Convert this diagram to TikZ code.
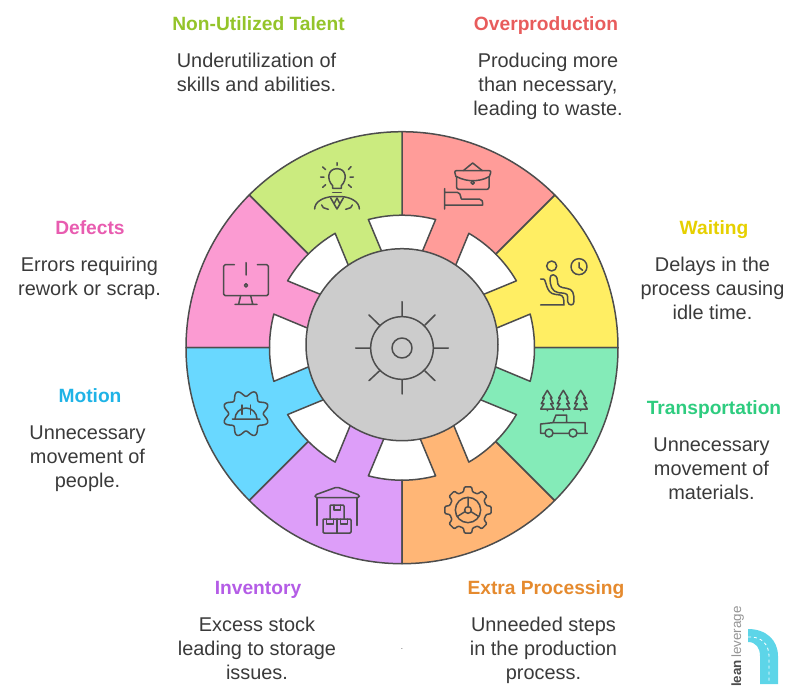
\documentclass[tikz,border=0pt]{standalone}
\usepackage{fontspec}
\setmainfont{Liberation Sans}
\definecolor{ink}{HTML}{4D4D4D}
\definecolor{cgreen}{HTML}{CBEB7F}
\definecolor{cred}{HTML}{FF9C99}
\definecolor{cyellow}{HTML}{FFEE63}
\definecolor{cmint}{HTML}{84EBB8}
\definecolor{corange}{HTML}{FFB676}
\definecolor{cpurple}{HTML}{DD9EF9}
\definecolor{cblue}{HTML}{69D8FF}
\definecolor{cpink}{HTML}{FB9BD2}
\definecolor{cgray}{HTML}{CCCCCC}
\definecolor{tgreen}{HTML}{94C42A}
\definecolor{tred}{HTML}{E85C5C}
\definecolor{tyellow}{HTML}{E6D000}
\definecolor{tmint}{HTML}{2ECC7F}
\definecolor{torange}{HTML}{E58A2E}
\definecolor{tpurple}{HTML}{B45CE6}
\definecolor{tblue}{HTML}{1FB3E6}
\definecolor{tpink}{HTML}{E85CB0}
\definecolor{logoc}{HTML}{5DD5E8}
\tikzset{
  titletext/.style={font=\fontsize{19.2}{24}\selectfont\bfseries,anchor=base,inner sep=0pt},
  bodytext/.style={font=\fontsize{19.9}{24}\selectfont,text=ink!75!black,align=center,anchor=north,inner sep=0pt},
  sectorline/.style={draw=ink,line width=1.5pt,line join=round},
  iconline/.style={draw=ink,line width=1.5pt,line join=round,line cap=round},
  zoomframe/.style={x=0.33333pt,y=-0.33333pt}
}
\newcommand{\sector}[2]{%
  \path[sectorline,fill=#2] (#1:216) arc[start angle=#1,end angle=#1+45,radius=216]
    -- ({#1+45}:132.5) arc[start angle=#1+45,end angle=#1+45-14.7,radius=132.5]
    -- ({#1+45-9.6}:81) -- ({#1+9.6}:81) -- ({#1+14.7}:132.5)
    arc[start angle=#1+14.7,end angle=#1,radius=132.5] -- cycle;}
\newcommand{\treeicon}[2]{%
  \draw[iconline] (#1,#2) -- (#1,#2+5) (#1-3,#2) -- (#1-20,#2) -- (#1-10,#2-16) -- (#1-18,#2-16) -- (#1-9,#2-33) -- (#1-14,#2-33) -- (#1,#2-56) -- (#1+14,#2-33) -- (#1+9,#2-33) -- (#1+18,#2-16) -- (#1+10,#2-16) -- (#1+20,#2) -- cycle;}
\begin{document}
\begin{tikzpicture}[x=1pt,y=-1pt]
\useasboundingbox (0,0) rectangle (804,696);
% wheel
\begin{scope}[shift={(402,347.7)},yscale=-1]
  \sector{0}{cyellow}
  \sector{45}{cred}
  \sector{90}{cgreen}
  \sector{135}{cpink}
  \sector{180}{cblue}
  \sector{225}{cpurple}
  \sector{270}{corange}
  \sector{315}{cmint}
\end{scope}
\node[draw=ink,line width=1.5pt,fill=cgray,circle,minimum size=192pt,inner sep=0pt] (hub) at (402,344.7) {};
% central gear
\begin{scope}[shift={(300,245)},zoomframe]
  \draw[iconline] (306,309) circle[radius=94] (306,309) circle[radius=30];
  \draw[iconline] (306,170)--(306,213) (306,405)--(306,447) (167,309)--(211,309) (401,309)--(445,309)
    (207,210)--(238,240) (405,210)--(375,240) (207,407)--(238,378) (405,407)--(375,378);
\end{scope}
% bulb + person, monitor
\begin{scope}[shift={(180,130)},zoomframe]
  \draw[iconline] (458,175) -- (458,167) .. controls (440,150) and (442,116) .. (471,116) .. controls (500,116) and (502,150) .. (484,167) -- (484,175) -- cycle;
  \draw[iconline] (458,188)--(484,188);
  \draw[iconline] (471,98)--(471,106) (428,111)--(437,119) (513,110)--(505,119) (422,141)--(432,141) (510,141)--(520,141) (428,172)--(437,164) (505,164)--(514,172);
  \draw[iconline] (404,237) .. controls (404,215) and (430,202) .. (455,200) -- (487,200) .. controls (512,202) and (538,215) .. (538,237);
  \draw[iconline] (452,204)--(471,237)--(490,204) (471,204)--(462,222)--(471,237)--(480,222)--cycle;
  \draw[iconline] (425,225)--(430,233)--(445,238) (517,225)--(512,233)--(497,238);
  \draw[iconline,rounded corners=1.5pt] (163,404)--(131,404)--(131,497)--(265,497)--(265,404)--(232,404);
  \draw[iconline] (198,398)--(198,435) (198,466) circle[radius=5];
  \draw[iconline] (182,497)--(176,522) (212,497)--(218,522) (165,523)--(231,523);
\end{scope}
% briefcase, waiting
\begin{scope}[shift={(400,130)},zoomframe]
  \draw[iconline] (190,122)--(218,99)--(247,122);
  \draw[iconline,rounded corners=2pt] (168,140)--(163,122)--(274,122)--(268,140);
  \draw[iconline,rounded corners=2pt] (170,140)--(170,178)--(267,178)--(267,140);
  \draw[iconline] (170,140) .. controls (190,150) and (205,152) .. (218,152) .. controls (232,152) and (250,150) .. (267,140);
  \draw[iconline] (218,158) circle[radius=5];
  \draw[iconline] (134,176)--(134,237) (134,187)--(172,187) .. controls (180,187) and (180,193) .. (184,207) -- (238,207) .. controls (247,207) and (248,215) .. (248,225) -- (134,225);
  \draw[iconline] (455,408) circle[radius=15] (537,410) circle[radius=24];
  \draw[iconline] (537,398)--(537,412)--(548,421);
  \draw[iconline] (422,447) -- (430,447) .. controls (440,447) and (436,490) .. (465,493) -- (480,495) .. controls (490,497) and (492,505) .. (492,525) -- (422,525);
  \draw[iconline] (450,445) .. controls (450,430) and (470,430) .. (472,450) .. controls (472,470) and (480,472) .. (500,475) .. controls (520,478) and (522,490) .. (522,515) .. controls (522,528) and (505,528) .. (503,515) -- (503,500) .. controls (503,488) and (490,490) .. (475,488) .. controls (455,485) and (450,465) .. (450,445);
\end{scope}
% trees, truck, gear
\begin{scope}[shift={(400,345)},zoomframe]
  \treeicon{442}{192}
  \treeicon{490}{192}
  \treeicon{542}{192}
  \draw[iconline] (434,265)--(422,265)--(422,237)--(459,233)--(468,210)--(500,210)--(500,233)--(555,233)--(555,265)--(531,265) (562,265)--(555,265) (459,265)--(507,265) (459,233)--(500,233);
  \draw[iconline] (447,264) circle[radius=12] (519,264) circle[radius=12];
  \begin{scope}[shift={(204,495)}]
    \draw[iconline] (0,0) circle[radius=38] (0,0) circle[radius=10];
    \draw[iconline] (0,-37)--(0,-10) (-33,20)--(-9,5) (33,20)--(9,5);
    \draw[iconline,rounded corners=1pt] (-14:56) \foreach \a in {0,45,...,315} {-- ({\a-14}:56) -- ({\a-9}:70) -- ({\a+9}:70) -- ({\a+14}:56)} -- cycle;
  \end{scope}
\end{scope}
% hard hat, warehouse
\begin{scope}[shift={(180,345)},zoomframe]
  \draw[iconline] plot[domain=0:360,samples=145,smooth] ({(61+9*cos(8*(\x-22.5)))*cos(\x)+198},{(61+9*cos(8*(\x-22.5)))*sin(\x)+206}) -- cycle;
  \draw[iconline] (157,222)--(240,222) (165,222) arc[start angle=180,end angle=360,radius=33];
  \draw[iconline] (186,180)--(186,208) (212,180)--(212,208);
  \draw[iconline,rounded corners=1.5pt] (405,458)--(405,450)--(471,426)--(538,450)--(538,458)--cycle;
  \draw[iconline] (411,458)--(411,541) (531,458)--(531,541);
  \draw[iconline,rounded corners=1pt] (450,522)--(450,480)--(492,480)--(492,522);
  \draw[iconline] (462,480)--(462,495)--(481,495)--(481,480);
  \draw[iconline,rounded corners=1pt] (429,522) rectangle (513,564);
  \draw[iconline] (471,522)--(471,564);
  \draw[iconline] (440,522)--(440,537)--(460,537)--(460,522) (482,522)--(482,537)--(502,537)--(502,522);
\end{scope}
% labels
\node[titletext,text=tgreen] (t1) at (258.5,30.5) {Non-Utilized Talent};
\node[bodytext] (b1) at (256.5,53) {Underutilization of\\skills and abilities.};
\node[titletext,text=tred] (t2) at (546,30.5) {Overproduction};
\node[bodytext] (b2) at (548,53) {Producing more\\than necessary,\\leading to waste.};
\node[titletext,text=tyellow] (t3) at (714,234.5) {Waiting};
\node[bodytext] (b3) at (712.5,257) {Delays in the\\process causing\\idle time.};
\node[titletext,text=tmint] (t4) at (714,414.5) {Transportation};
\node[bodytext] (b4) at (711.5,438) {Unnecessary\\movement of\\materials.};
\node[titletext,text=torange] (t5) at (546,594.5) {Extra Processing};
\node[bodytext] (b5) at (543.5,617) {Unneeded steps\\in the production\\process.};
\node[titletext,text=tpurple] (t6) at (258,594.5) {Inventory};
\node[bodytext] (b6) at (257,617) {Excess stock\\leading to storage\\issues.};
\node[titletext,text=tblue] (t7) at (90,402.5) {Motion};
\node[bodytext] (b7) at (87.5,426) {Unnecessary\\movement of\\people.};
\node[titletext,text=tpink] (t8) at (90,234.5) {Defects};
\node[bodytext] (b8) at (89.5,257) {Errors requiring\\rework or scrap.};
\node[anchor=base,inner sep=0pt,text=ink,font=\fontsize{8}{8}\selectfont] (dot) at (402,649) {.};
% logo
\fill[logoc] (748,629) .. controls (766,629) and (778,640) .. (778,656) -- (778,684) -- (760,684) -- (760,656) .. controls (760,648) and (756,642) .. (748,642) -- cycle;
\draw[white,line width=0.8pt,dashed] (748,637) .. controls (762,636) and (769,645) .. (769,656) -- (769,681);
\node[rotate=90,anchor=base west,inner sep=0pt,font=\fontsize{13.4}{13.4}\selectfont] (logo) at (741,687) {\textcolor{ink}{\bfseries lean}\,\textcolor{ink!60}{leverage}};
\end{tikzpicture}
\end{document}
